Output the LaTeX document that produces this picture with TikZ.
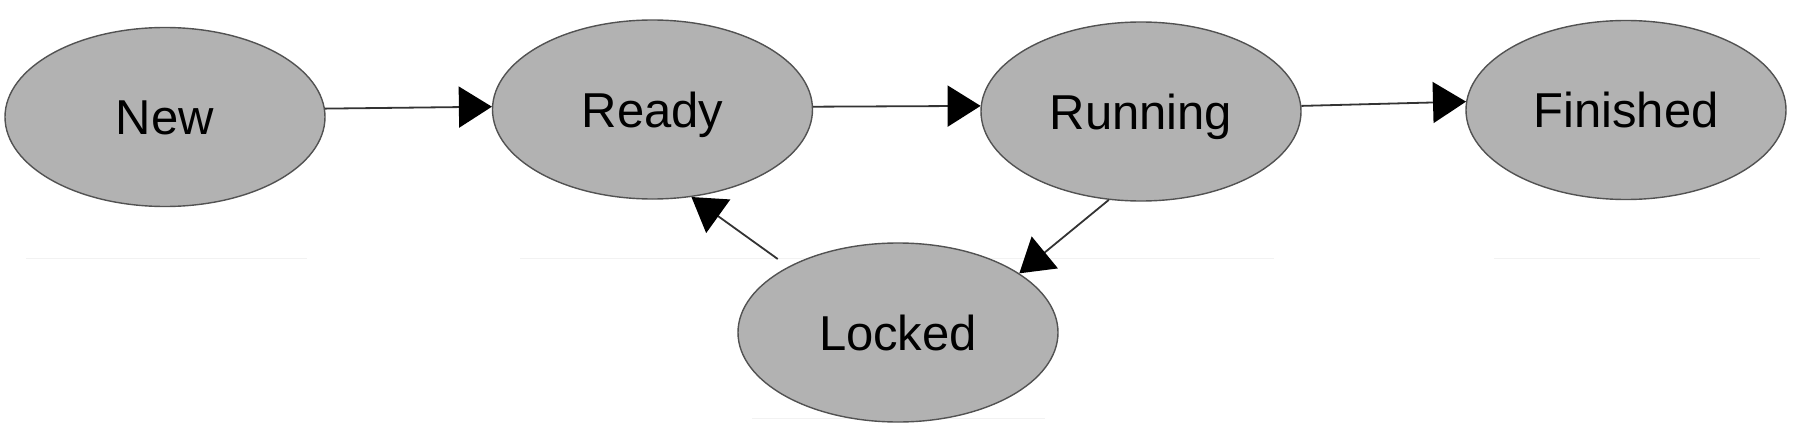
\documentclass[tikz,border=0pt]{standalone}
\usepackage{fontspec}
\setmainfont{Liberation Sans}
\usetikzlibrary{arrows.meta,shapes.geometric}
\tikzset{
  etat/.style={ellipse, draw=black!68, line width=0.7pt, fill=black!30,
    minimum width=160pt, minimum height=89.5pt, inner sep=0pt,
    font=\fontsize{24.5}{28}\selectfont, text height=17.5pt, text depth=0pt},
  fleche/.style={draw=black!80, line width=0.9pt,
    -{Triangle[length=16.5pt,width=20.5pt,color=black]}},
  trait/.style={draw=black!5, line width=0.5pt},
}

\begin{document}
\begin{tikzpicture}[x=0.5pt,y=0.5pt]
    \useasboundingbox (0,0) rectangle (1796,430);
    % Traits pales
    \foreach \a/\b/\h in {26/307/172, 520/1274/172, 1494/1760/172, 752/1045/12}
      \draw[trait] (\a,\h) -- (\b,\h);
    % Les etats
    \node[etat] (new) at (165,313) {New};
    \node[etat] (ready) at (652.5,320.5) {Ready};
    \node[etat] (running) at (1141,318.5) {Running};
    \node[etat] (finished) at (1626,320) {Finished};
    \node[etat] (locked) at (898,97.5) {Locked};
    % Transitions
    \draw[fleche] (new.3.6) -- (ready.179);
    \draw[fleche] (ready.1) -- (running.178.4);
    \draw[fleche] (running.2.7) -- (finished.177.9);
    \draw[fleche] (running.250.7) -- (locked.26);
    \draw[fleche, shorten <=6.5pt] (locked.149.6) -- (ready.294);
\end{tikzpicture}
\end{document}
